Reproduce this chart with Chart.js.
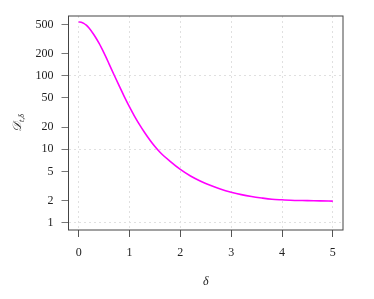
<!DOCTYPE html>
<html>
<head>
<meta charset="utf-8">
<script src="https://cdn.jsdelivr.net/npm/chart.js@4"></script>
<style>
  html, body { margin: 0; padding: 0; background: #fff; }
  canvas { display: block; }
</style>
</head>
<body>
<canvas id="chart" width="374" height="299"></canvas>
<script>
// data
const deltas = [0, 0.05, 0.1, 0.15, 0.2, 0.3, 0.4, 0.5, 0.6, 0.7, 0.8, 0.9, 1.0, 1.1, 1.2, 1.3, 1.4, 1.5, 1.6,
                1.8, 2.0, 2.2, 2.4, 2.6, 2.8, 3.0, 3.2, 3.4, 3.6, 3.8, 4.0, 4.25, 4.5, 4.75, 5.0];
const dValues = [543, 538, 520, 491, 452, 363, 279, 204, 145, 102, 72.4, 51.9, 37.8, 28.1, 21.5, 16.8, 13.4, 10.9, 9.1,
                 6.84, 5.31, 4.32, 3.67, 3.20, 2.85, 2.60, 2.41, 2.27, 2.17, 2.09, 2.05, 2.01, 2.0, 1.98, 1.97];
const xTicks = [0, 1, 2, 3, 4, 5];
const yTicks = [1, 2, 5, 10, 20, 50, 100, 200, 500];
const yGridTicks = [1, 10, 100];

const FONT = '"Liberation Serif", serif';
const points = deltas.map((d, i) => ({ x: d, y: dValues[i] }));

// frame and axis titles
const decorations = {
    id: 'decorations',
    afterDraw(chart) {
        const ctx = chart.ctx;
        const a = chart.chartArea;
        ctx.save();
        ctx.strokeStyle = '#444';
        ctx.lineWidth = 1;
        ctx.strokeRect(a.left, a.top, a.right - a.left, a.bottom - a.top);

        ctx.fillStyle = '#222';
        ctx.textAlign = 'center';
        ctx.textBaseline = 'middle';
        ctx.font = 'italic 12px ' + FONT;
        ctx.fillText('δ', (a.left + a.right) / 2, 282);

        // y title: D with subscript t,δ
        ctx.translate(17, (a.top + a.bottom) / 2);
        ctx.rotate(-Math.PI / 2);
        ctx.textAlign = 'left';
        ctx.textBaseline = 'alphabetic';
        const main = '𝒟';
        const sub = 't,δ';
        ctx.font = 'italic 8px ' + FONT;
        const subW = ctx.measureText(sub).width;
        ctx.font = 'italic 12px ' + FONT;
        const mainW = ctx.measureText(main).width;
        const start = -(mainW + subW) / 2;
        ctx.fillText(main, start, 4);
        ctx.font = 'italic 8px ' + FONT;
        ctx.fillText(sub, start + mainW, 7);
        ctx.restore();
    }
};

new Chart(document.getElementById('chart'), {
    type: 'line',
    data: {
        datasets: [{
            data: points,
            borderColor: '#ff00ff',
            borderWidth: 1.6,
            pointRadius: 0,
            cubicInterpolationMode: 'monotone',
            fill: false
        }]
    },
    options: {
        responsive: false,
        devicePixelRatio: 1,
        animation: false,
        layout: { padding: { top: 16, right: 31, left: 0, bottom: 0 } },
        plugins: { legend: { display: false }, tooltip: { enabled: false } },
        scales: {
            x: {
                type: 'linear',
                min: -0.2,
                max: 5.2,
                afterBuildTicks: (scale) => { scale.ticks = xTicks.map(v => ({ value: v })); },
                afterFit: (scale) => { scale.height = 69; },
                border: { display: false, dash: [2, 3] },
                grid: {
                    color: '#e0e0e0',
                    tickColor: '#555',
                    tickLength: 7,
                    tickBorderDash: []
                },
                ticks: {
                    padding: 9,
                    color: '#222',
                    font: { family: FONT, size: 12 },
                    callback: (v) => String(v)
                }
            },
            y: {
                type: 'logarithmic',
                min: 0.795,
                max: 655,
                afterBuildTicks: (scale) => { scale.ticks = yTicks.map(v => ({ value: v })); },
                afterFit: (scale) => { scale.width = 68.5; },
                border: { display: false, dash: [2, 3] },
                grid: {
                    color: (c) => yGridTicks.includes(c.tick && c.tick.value) ? '#e0e0e0' : 'rgba(0,0,0,0)',
                    tickColor: '#777',
                    tickLength: 7,
                    tickBorderDash: []
                },
                ticks: {
                    padding: 8,
                    color: '#222',
                    font: { family: FONT, size: 12 },
                    callback: (v) => String(v)
                }
            }
        }
    },
    plugins: [decorations]
});
</script>
</body>
</html>
